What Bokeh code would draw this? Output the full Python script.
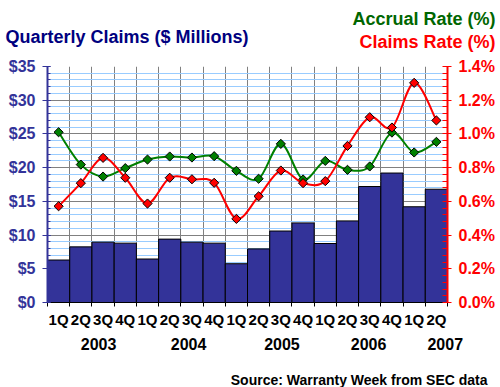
import numpy as np
from bokeh.plotting import figure
from bokeh.layouts import column
from bokeh.models import (Range1d, LinearAxis, FixedTicker, SingleIntervalTicker,
                          PrintfTickFormatter)
from bokeh.core.properties import value
from bokeh.embed import file_html
from bokeh.resources import INLINE

# ---- data ----
quarters = ["1Q", "2Q", "3Q", "4Q", "1Q", "2Q", "3Q", "4Q", "1Q", "2Q", "3Q", "4Q",
            "1Q", "2Q", "3Q", "4Q", "1Q", "2Q"]
years = ["2003", "2004", "2005", "2006", "2007"]
claims = [6.3, 8.25, 8.95, 8.8, 6.45, 9.4, 8.95, 8.8, 5.75, 7.95, 10.6, 11.8,
          8.75, 12.1, 17.2, 19.2, 14.2, 16.8]
accrual_rate = [1.01, 0.818, 0.747, 0.797, 0.848, 0.866, 0.860, 0.868, 0.781, 0.734,
                0.941, 0.730, 0.840, 0.787, 0.807, 1.008, 0.890, 0.953]
claims_rate = [0.571, 0.708, 0.858, 0.740, 0.587, 0.740, 0.731, 0.710, 0.496, 0.630,
               0.783, 0.708, 0.720, 0.929, 1.099, 1.038, 1.303, 1.080]

# ---- layout constants ----
year_label_pos = [2.3, 6.35, 10.55, 14.45, 17.9]
FONT = "Liberation Sans"
NAVY = "#333399"
GREEN = "#008000"
RED = "#FF0000"
W = 500
HEAD_H = 56
MAIN_H = 352 - HEAD_H
FOOT_H = 35

n = len(claims)
centers = [i + 0.5 for i in range(n)]
bounds = list(range(n + 1))


def blank(height):
    f = figure(width=W, height=height, x_range=Range1d(0, W), y_range=Range1d(height, 0),
               output_backend="svg", toolbar_location=None,
               x_axis_location=None, y_axis_location=None,
               min_border=0, min_border_left=0, min_border_right=0,
               min_border_top=0, min_border_bottom=0)
    f.outline_line_color = None
    f.xgrid.visible = False
    f.ygrid.visible = False
    f.background_fill_color = "white"
    f.border_fill_color = "white"
    return f


def txt(f, s, x, y, color, size, align):
    f.text(x=[x], y=[y], text=[s], text_font=value(FONT), text_font_style="bold",
           text_font_size=size, text_color=color, text_align=align,
           text_baseline="alphabetic")


# ---- header ----
head = blank(HEAD_H)
txt(head, "Quarterly Claims ($ Millions)", 5, 36, "#000080", "18px", "left")
txt(head, "Accrual Rate (%)", 495, 18, "#006600", "18px", "right")
txt(head, "Claims Rate (%)", 495, 41.5, RED, "18px", "right")

# ---- main chart ----
p = figure(width=W, height=MAIN_H, x_range=Range1d(0, n), y_range=Range1d(0, 35),
           output_backend="svg", toolbar_location=None,
           min_border_left=47, min_border_right=53, min_border_top=66 - HEAD_H,
           min_border_bottom=50)
p.outline_line_color = None
p.background_fill_color = "white"
p.border_fill_color = "white"
p.extra_y_ranges = {"rate": Range1d(0, 1.4)}

# grids
p.xgrid.ticker = FixedTicker(ticks=bounds)
p.xgrid.grid_line_color = "#808080"
p.ygrid.ticker = SingleIntervalTicker(interval=5, num_minor_ticks=5)
p.ygrid.grid_line_color = "#808080"
p.ygrid.minor_grid_line_color = "#99CCFF"

# bottom axis (quarters)
xa = p.xaxis[0]
xa.ticker = FixedTicker(ticks=centers, minor_ticks=bounds)
xa.major_label_overrides = {c: q for c, q in zip(centers, quarters)}
xa.major_tick_out = 0
xa.major_tick_in = 0
xa.minor_tick_out = 4
xa.minor_tick_in = 0
xa.minor_tick_line_color = "black"
xa.axis_line_color = "black"
xa.axis_line_width = 1
xa.major_label_standoff = 4
xa.major_label_text_font = FONT
xa.major_label_text_font_style = "bold"
xa.major_label_text_font_size = "15px"
xa.major_label_text_color = "black"

# second bottom axis (years)
ya2 = LinearAxis(ticker=FixedTicker(ticks=year_label_pos),
                 major_label_overrides={xp: yr for xp, yr in zip(year_label_pos, years)})
ya2.axis_line_color = None
ya2.major_tick_line_color = None
ya2.minor_tick_line_color = None
ya2.major_tick_out = 0
ya2.major_tick_in = 0
ya2.major_label_standoff = 7
ya2.major_label_text_font = FONT
ya2.major_label_text_font_style = "bold"
ya2.major_label_text_font_size = "16px"
ya2.major_label_text_color = "black"
p.add_layout(ya2, "below")

# left axis
ya = p.yaxis[0]
ya.ticker = SingleIntervalTicker(interval=5, num_minor_ticks=5)
ya.formatter = PrintfTickFormatter(format="$%d")
ya.axis_line_color = NAVY
ya.axis_line_width = 2
ya.major_tick_line_color = NAVY
ya.minor_tick_line_color = NAVY
ya.major_tick_out = 5
ya.major_tick_in = 3
ya.minor_tick_out = 0
ya.minor_tick_in = 3
ya.major_label_standoff = 7
ya.major_label_text_font = FONT
ya.major_label_text_font_style = "bold"
ya.major_label_text_font_size = "16px"
ya.major_label_text_color = NAVY

# right axis
rate_major = [round(0.2 * i, 2) for i in range(8)]
rate_minor = [round(0.04 * i, 2) for i in range(36)]
ra = LinearAxis(y_range_name="rate",
                ticker=FixedTicker(ticks=rate_major, minor_ticks=rate_minor),
                formatter=PrintfTickFormatter(format="%.1f%%"))
ra.axis_line_color = RED
ra.axis_line_width = 2
ra.major_tick_line_color = RED
ra.minor_tick_line_color = RED
ra.major_tick_out = 4
ra.major_tick_in = 3
ra.minor_tick_out = 0
ra.minor_tick_in = 5
ra.major_label_standoff = 7
ra.major_label_text_font = FONT
ra.major_label_text_font_style = "bold"
ra.major_label_text_font_size = "16px"
ra.major_label_text_color = RED
p.add_layout(ra, "right")

# bars
p.vbar(x=centers, top=claims, width=1, bottom=0, fill_color=NAVY,
       line_color="black", line_width=1)


def smooth(xs, ys):
    xs = np.asarray(xs, float)
    ys = np.asarray(ys, float)
    m = len(xs)
    out = {k: [] for k in ("x0", "y0", "x1", "y1", "cx0", "cy0", "cx1", "cy1")}
    for i in range(m - 1):
        a = max(i - 1, 0)
        d = min(i + 2, m - 1)
        out["x0"].append(xs[i]); out["y0"].append(ys[i])
        out["x1"].append(xs[i + 1]); out["y1"].append(ys[i + 1])
        out["cx0"].append(xs[i] + (xs[i + 1] - xs[a]) / 6)
        out["cy0"].append(ys[i] + (ys[i + 1] - ys[a]) / 6)
        out["cx1"].append(xs[i + 1] - (xs[d] - xs[i]) / 6)
        out["cy1"].append(ys[i + 1] - (ys[d] - ys[i]) / 6)
    return out


for series, col in ((accrual_rate, GREEN), (claims_rate, RED)):
    seg = smooth(centers, series)
    p.bezier(y_range_name="rate", line_color=col, line_width=2, **seg)
    p.scatter(centers, series, y_range_name="rate", marker="square", size=6.5,
              angle=np.pi / 4, fill_color=col, line_color="black", line_width=1)

# ---- footer ----
foot = blank(FOOT_H)
txt(foot, "Source: Warranty Week from SEC data", 487, 27, "black", "14px", "right")

layout = column(column(head), p, column(foot), spacing=0)
open("out.html", "w").write(file_html(layout, INLINE))
